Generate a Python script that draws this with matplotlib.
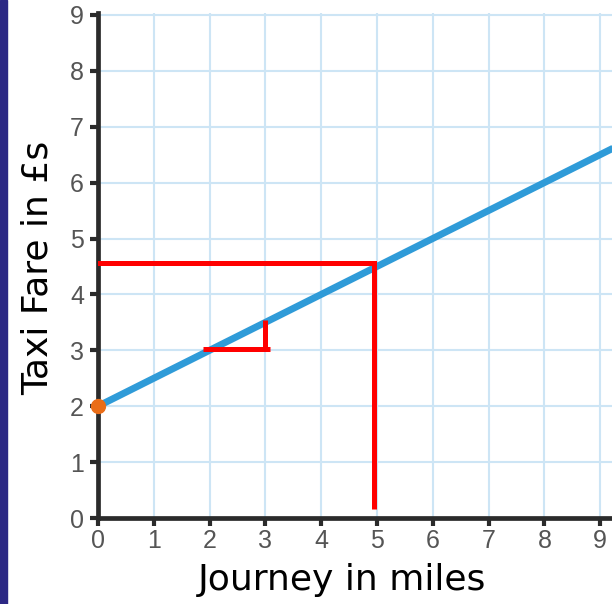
import matplotlib
matplotlib.use("Agg")
import matplotlib.pyplot as plt
from matplotlib.patches import Rectangle

# Data
miles = [0, 9.3]
fare = [2.0, 6.65]
start_point = (0, 2)
reading_h_x = [0, 4.95]
reading_h_y = [4.56, 4.56]
reading_v_x = [4.95, 4.95]
reading_v_y = [4.58, 0.16]
slope_h_x = [1.88, 3.08]
slope_h_y = [3.03, 3.03]
slope_v_x = [3.0, 3.0]
slope_v_y = [3.55, 3.0]
xticks = list(range(0, 10))
yticks = list(range(0, 10))

fig = plt.figure(figsize=(6.12, 6.04), dpi=100)
fig.patches.append(Rectangle((0, 0), 7/612, 1, transform=fig.transFigure,
                             color="#2c2884", zorder=10))

W, H = 612, 604
x0, x1 = 98, 612
y0, y1 = 518, 13
ax = fig.add_axes([x0/W, 1 - y0/H, (x1 - x0)/W, (y0 - y1)/H])
ax.set_xlim(0, (x1 - x0)/55.8)
ax.set_ylim(0, (y0 - y1)/55.9)

ax.set_xticks(xticks)
ax.set_yticks(yticks)
ax.grid(True, color="#cde5f5", linewidth=1.5, zorder=0)
for s in ["top", "right"]:
    ax.spines[s].set_visible(False)
for s in ["left", "bottom"]:
    ax.spines[s].set_linewidth(3.4)
    ax.spines[s].set_color("#2b2b2b")
ax.spines["left"].set_bounds(0, 9.03)
ax.tick_params(axis="both", length=6, width=3, color="#2b2b2b",
               labelsize=18, labelcolor="#555555", pad=2)
ax.tick_params(axis="y", pad=4)
for lab in ax.get_xticklabels() + ax.get_yticklabels():
    lab.set_family("Liberation Sans")

ax.plot(miles, fare, color="#2f9bd8", linewidth=5, solid_capstyle="butt", zorder=3, clip_on=True)
ax.plot([start_point[0]], [start_point[1]], "o", color="#ea6d17", markersize=10, zorder=5, clip_on=False)

red = "#ff0000"
lw = 3.6
ax.plot(reading_h_x, reading_h_y, color=red, linewidth=lw, zorder=4, solid_capstyle="projecting")
ax.plot(reading_v_x, reading_v_y, color=red, linewidth=lw, zorder=4, solid_capstyle="butt")
ax.plot(slope_h_x, slope_h_y, color=red, linewidth=lw, zorder=4, solid_capstyle="butt")
ax.plot(slope_v_x, slope_v_y, color=red, linewidth=lw, zorder=4, solid_capstyle="butt")

fig.text(342/W, 1 - 580/H, "Journey in miles", ha="center", va="center",
         fontsize=26, family="DejaVu Sans", color="black")
fig.text(38/W, 1 - 268/H, "Taxi Fare in £s", ha="center", va="center",
         rotation=90, fontsize=26, family="DejaVu Sans", color="black")

fig.savefig("out.png", dpi=100)
